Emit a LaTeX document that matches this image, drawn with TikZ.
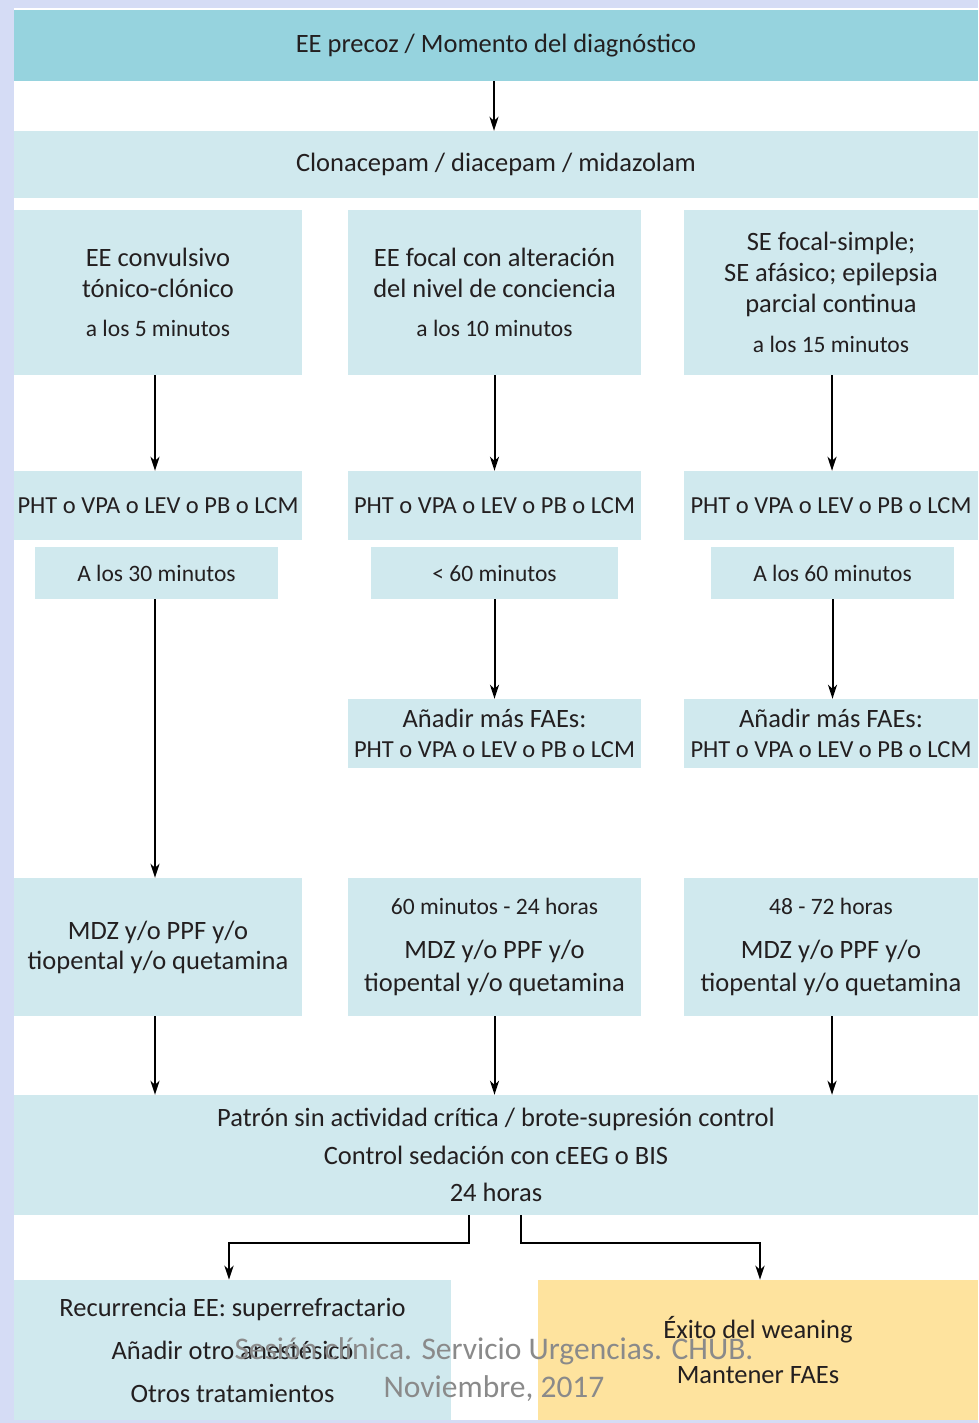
\documentclass[tikz,border=0pt]{standalone}
\usepackage{fontspec}
\setmainfont{Carlito}
\usetikzlibrary{arrows.meta}
\definecolor{bgblue}{HTML}{D5DCF5}
\definecolor{topblue}{HTML}{96D3DE}
\definecolor{lightblue}{HTML}{D0E9EE}
\definecolor{lightyellow}{HTML}{FEE39E}
\definecolor{txt}{HTML}{231F20}
\definecolor{wm}{HTML}{8A8A8A}
\newcommand{\mainf}{\fontsize{26.5}{31}\selectfont}
\newcommand{\smallf}{\fontsize{23.5}{31}\selectfont}
\newcommand{\phtf}{\fontsize{24.5}{30}\selectfont}
\tikzset{
  box/.style={fill=lightblue, inner sep=0pt, align=center, text=txt, font=\mainf},
  arr/.style={line width=2pt, -{Stealth[length=14pt,width=9pt,inset=4pt]}},
  conn/.style={line width=2.5pt},
  wmark/.style={text=wm, font=\fontsize{31.5}{38}\selectfont, inner sep=0pt}
}
\begin{document}
\begin{tikzpicture}[x=1pt,y=-1pt]
\useasboundingbox (0,0) rectangle (978,1423);
\fill[bgblue] (0,0) rectangle (978,1423);
\fill[white] (14,8) rectangle (978,1420);
% boxes
\node[box, fill=topblue, minimum width=964pt, minimum height=71pt] (top) at (496,45.5) {EE precoz / Momento del diagnóstico};
\node[box, minimum width=964pt, minimum height=67pt] (clona) at (496,164.5) {Clonacepam / diacepam / midazolam};
% row 3
\node[box, minimum width=288pt, minimum height=165pt] (r3a) at (158,292.5) {EE convulsivo\\tónico-clónico\\[8pt]{\smallf a los 5 minutos}};
\node[box, minimum width=293pt, minimum height=165pt] (r3b) at (494.5,292.5) {EE focal con alteración\\del nivel de conciencia\\[8pt]{\smallf a los 10 minutos}};
\node[box, minimum width=294pt, minimum height=165pt] (r3c) at (831,292.5) {\fontsize{26.5}{30}\selectfont SE focal-simple;\\SE afásico; epilepsia\\parcial continua\\[9pt]{\smallf a los 15 minutos}};
% row 4
\node[box, font=\phtf, minimum width=288pt, minimum height=69pt] (r4a) at (158,505.5) {PHT o VPA o LEV o PB o LCM};
\node[box, font=\phtf, minimum width=293pt, minimum height=69pt] (r4b) at (494.5,505.5) {PHT o VPA o LEV o PB o LCM};
\node[box, font=\phtf, minimum width=294pt, minimum height=69pt] (r4c) at (831,505.5) {PHT o VPA o LEV o PB o LCM};
% row 5
\node[box, font=\smallf, minimum width=243pt, minimum height=52pt] (r5a) at (156.5,573) {A los 30 minutos};
\node[box, font=\smallf, minimum width=247pt, minimum height=52pt] (r5b) at (494.5,573) {< 60 minutos};
\node[box, font=\smallf, minimum width=243pt, minimum height=52pt] (r5c) at (832.5,573) {A los 60 minutos};
% row 6
\node[box, font=\fontsize{26.5}{30}\selectfont, minimum width=293pt, minimum height=69pt] (r6b) at (494.5,733.5) {Añadir más FAEs:\\{\phtf PHT o VPA o LEV o PB o LCM}};
\node[box, font=\fontsize{26.5}{30}\selectfont, minimum width=294pt, minimum height=69pt] (r6c) at (831,733.5) {Añadir más FAEs:\\{\phtf PHT o VPA o LEV o PB o LCM}};
% row 7
\node[box, font=\fontsize{26.5}{30}\selectfont, minimum width=288pt, minimum height=138pt] (r7a) at (158,947) {MDZ y/o PPF y/o\\tiopental y/o quetamina};
\node[box, font=\fontsize{26.5}{33}\selectfont, minimum width=293pt, minimum height=138pt] (r7b) at (494.5,947) {{\smallf 60 minutos - 24 horas}\\[11pt]MDZ y/o PPF y/o\\tiopental y/o quetamina};
\node[box, font=\fontsize{26.5}{33}\selectfont, minimum width=294pt, minimum height=138pt] (r7c) at (831,947) {{\smallf 48 - 72 horas}\\[11pt]MDZ y/o PPF y/o\\tiopental y/o quetamina};
% row 8
\node[box, font=\fontsize{26.5}{37.5}\selectfont, minimum width=964pt, minimum height=120pt] (r8) at (496,1155) {Patrón sin actividad crítica / brote-supresión control\\Control sedación con cEEG o BIS\\24 horas};
% bottom
\node[box, font=\fontsize{26.5}{43}\selectfont, minimum width=437pt, minimum height=140pt] (bl) at (232.5,1350) {Recurrencia EE: superrefractario\\Añadir otro anestésico\\Otros tratamientos};
\node[box, fill=lightyellow, font=\fontsize{26.5}{45}\selectfont, minimum width=440pt, minimum height=140pt] (br) at (758,1350) {Éxito del weaning\\Mantener FAEs};
% arrows
\draw[line width=1.5pt, -{Stealth[length=14pt,width=9pt,inset=4pt]}] ([xshift=-2pt]top.south) -- ([xshift=-2pt]top.south |- clona.north);
\draw[arr] ([xshift=-3pt]r3a.south) -- ([xshift=-3pt]r3a.south |- r4a.north);
\draw[arr] (r3b.south) -- (r3b.south |- r4b.north);
\draw[arr] ([xshift=1pt]r3c.south) -- ([xshift=1pt]r3c.south |- r4c.north);
\draw[arr] ([xshift=-1.5pt]r5a.south) -- ([xshift=-1.5pt]r5a.south |- r7a.north);
\draw[arr] (r5b.south) -- (r5b.south |- r6b.north);
\draw[arr] (r5c.south) -- (r5c.south |- r6c.north);
\draw[arr] ([xshift=-3pt]r7a.south) -- ([xshift=-3pt]r7a.south |- r8.north);
\draw[arr] (r7b.south) -- (r7b.south |- r8.north);
\draw[arr] ([xshift=1pt]r7c.south) -- ([xshift=1pt]r7c.south |- r8.north);
\draw[conn, -{Stealth[length=14pt,width=9pt,inset=4pt]}] ([xshift=-27pt]r8.south) -- ++(0,28) -| ([xshift=-3.5pt]bl.north);
\draw[conn, -{Stealth[length=14pt,width=9pt,inset=4pt]}] ([xshift=25pt]r8.south) -- ++(0,28) -| ([xshift=2pt]br.north);
% watermark
\node[wmark] (wm1) at (494,1351) {Sesión clínica. Servicio Urgencias. CHUB.};
\node[wmark] (wm2) at (494,1389) {Noviembre, 2017};
\end{tikzpicture}
\end{document}
